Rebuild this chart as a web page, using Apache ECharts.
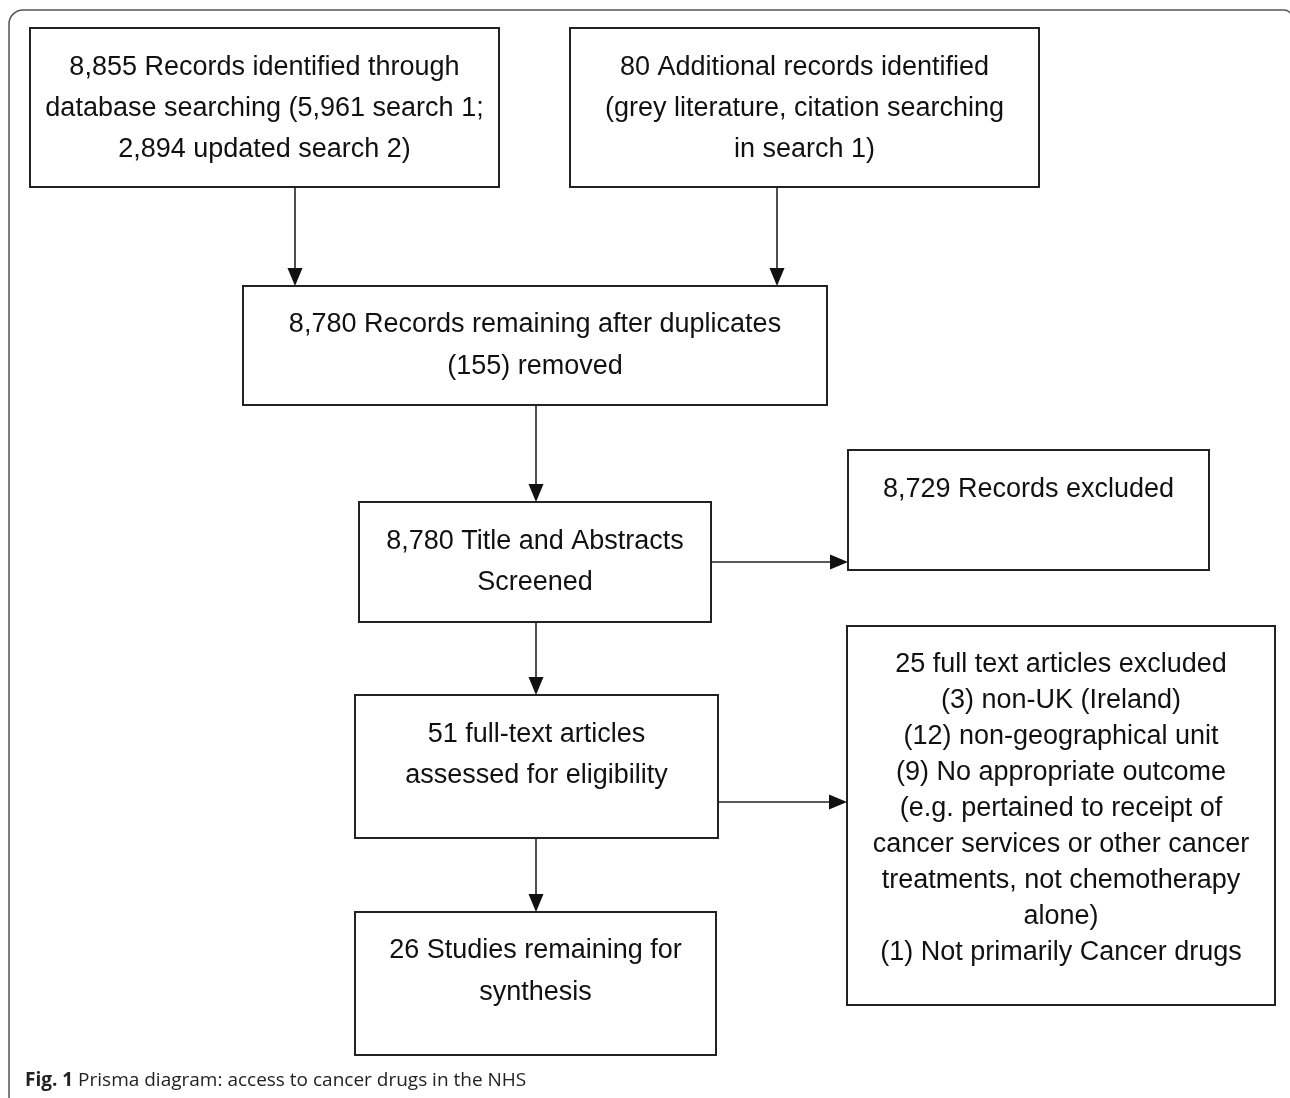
<!DOCTYPE html>
<html>
<head>
<meta charset="utf-8">
<script src="https://cdn.jsdelivr.net/npm/echarts@6/dist/echarts.min.js"></script>
<style>
html,body{margin:0;padding:0;background:#fff;}
#chart{width:1290px;height:1098px;}
</style>
</head>
<body>
<div id="chart"></div>
<script>
// ---- content ----
const nodeLabels = [
  "8,855 Records identified through\ndatabase searching (5,961 search 1;\n2,894 updated search 2)",
  "80 Additional records identified\n(grey literature, citation searching\nin search 1)",
  "8,780 Records remaining after duplicates\n(155) removed",
  "8,780 Title and Abstracts\nScreened",
  "8,729 Records excluded",
  "51 full-text articles\nassessed for eligibility",
  "25 full text articles excluded\n(3) non-UK (Ireland)\n(12) non-geographical unit\n(9) No appropriate outcome\n(e.g. pertained to receipt of\ncancer services or other cancer\ntreatments, not chemotherapy\nalone)\n(1) Not primarily Cancer drugs",
  "26 Studies remaining for\nsynthesis"
];
// flow edges: [from, to]
const edgeList = [[0,2],[1,2],[2,3],[3,4],[3,5],[5,6],[5,7]];
const captionBold = "Fig. 1";
const captionText = " Prisma diagram: access to cancer drugs in the NHS";

// ---- layout (positions in diagram units, separate from content) ----
const boxRects = [ // [x0, y0, x1, y1]
  [30, 28, 499, 187],
  [570, 28, 1039, 187],
  [243, 286, 827, 405],
  [359, 502, 711, 622],
  [848, 450, 1209, 570],
  [355, 695, 718, 838],
  [847, 626, 1275, 1005],
  [355, 912, 716, 1055]
];
const firstLineY = [68, 68, 325, 542, 490, 735, 665, 951];
const lineGap = [41, 41, 42, 41, 41, 41, 36, 42];
// arrow anchor: vertical edges use x, horizontal edges use y
const edgeAnchor = [295, 777, 536, 562, 536, 802, 536];

const FONT = '"Liberation Sans", Arial, sans-serif';

const boxData = nodeLabels.map((t, i) => ({
  value: [boxRects[i][0], boxRects[i][1], boxRects[i][2], boxRects[i][3], firstLineY[i], lineGap[i], i]
}));

const edgeData = edgeList.map((e, k) => {
  const a = boxRects[e[0]], b = boxRects[e[1]];
  const vertical = b[1] > a[3];
  let p0, p1;
  if (vertical) {
    const x = edgeAnchor[k];
    p0 = [x, a[3]]; p1 = [x, b[1]];
  } else {
    const y = edgeAnchor[k];
    p0 = [a[2], y]; p1 = [b[0], y];
  }
  return { value: [p0[0], p0[1], p1[0], p1[1]] };
});

const chart = echarts.init(document.getElementById('chart'), null, {renderer: 'canvas'});

chart.setOption({
  animation: false,
  backgroundColor: '#ffffff',
  grid: {left: 0, right: 0, top: 0, bottom: 0},
  xAxis: {type: 'value', min: 0, max: 1290, show: false},
  yAxis: {type: 'value', min: 0, max: 1098, inverse: true, show: false},
  graphic: [
    {
      type: 'rect',
      shape: {x: 9, y: 10, width: 1283, height: 1100, r: [14, 8, 14, 14]},
      style: {fill: null, stroke: '#555', lineWidth: 1.5},
      silent: true
    },
    {
      type: 'text',
      left: 25, top: 1071,
      style: {
        text: '{b|' + captionBold + '}{n|' + captionText + '}',
        rich: {
          b: {fontFamily: '"Open Sans", "Noto Sans", sans-serif', fontWeight: 'bold', fontSize: 19, fill: '#222'},
          n: {fontFamily: '"Open Sans", "Noto Sans", sans-serif', fontSize: 19, fill: '#222'}
        }
      }
    }
  ],
  series: [
    {
      type: 'custom',
      coordinateSystem: 'cartesian2d',
      data: boxData,
      renderItem: function (params, api) {
        const p0 = api.coord([api.value(0), api.value(1)]);
        const p1 = api.coord([api.value(2), api.value(3)]);
        const ly = api.coord([0, api.value(4)])[1];
        const gap = api.value(5);
        const idx = api.value(6);
        const cx = (p0[0] + p1[0]) / 2;
        return {
          type: 'group',
          children: [
            {
              type: 'rect',
              shape: {x: p0[0], y: p0[1], width: p1[0] - p0[0], height: p1[1] - p0[1]},
              style: {fill: '#fff', stroke: '#222', lineWidth: 2}
            },
            {
              type: 'text',
              x: cx, y: ly - gap / 2,
              style: {
                text: nodeLabels[idx],
                fontFamily: FONT,
                fontSize: 27,
                lineHeight: gap,
                fill: '#111',
                align: 'center',
                verticalAlign: 'top'
              }
            }
          ]
        };
      }
    },
    {
      type: 'custom',
      coordinateSystem: 'cartesian2d',
      data: edgeData,
      z: 3,
      renderItem: function (params, api) {
        const a = api.coord([api.value(0), api.value(1)]);
        const b = api.coord([api.value(2), api.value(3)]);
        const dx = b[0] - a[0], dy = b[1] - a[1];
        const len = Math.sqrt(dx * dx + dy * dy);
        const ux = dx / len, uy = dy / len;
        const hl = 18, hw = 7.5;
        const bx = b[0] - ux * hl, by = b[1] - uy * hl;
        return {
          type: 'group',
          children: [
            {
              type: 'line',
              shape: {x1: a[0], y1: a[1], x2: bx, y2: by},
              style: {stroke: '#222', lineWidth: 1.6}
            },
            {
              type: 'polygon',
              shape: {points: [[b[0], b[1]], [bx - uy * hw, by + ux * hw], [bx + uy * hw, by - ux * hw]]},
              style: {fill: '#111'}
            }
          ]
        };
      }
    }
  ]
});
</script>
</body>
</html>
